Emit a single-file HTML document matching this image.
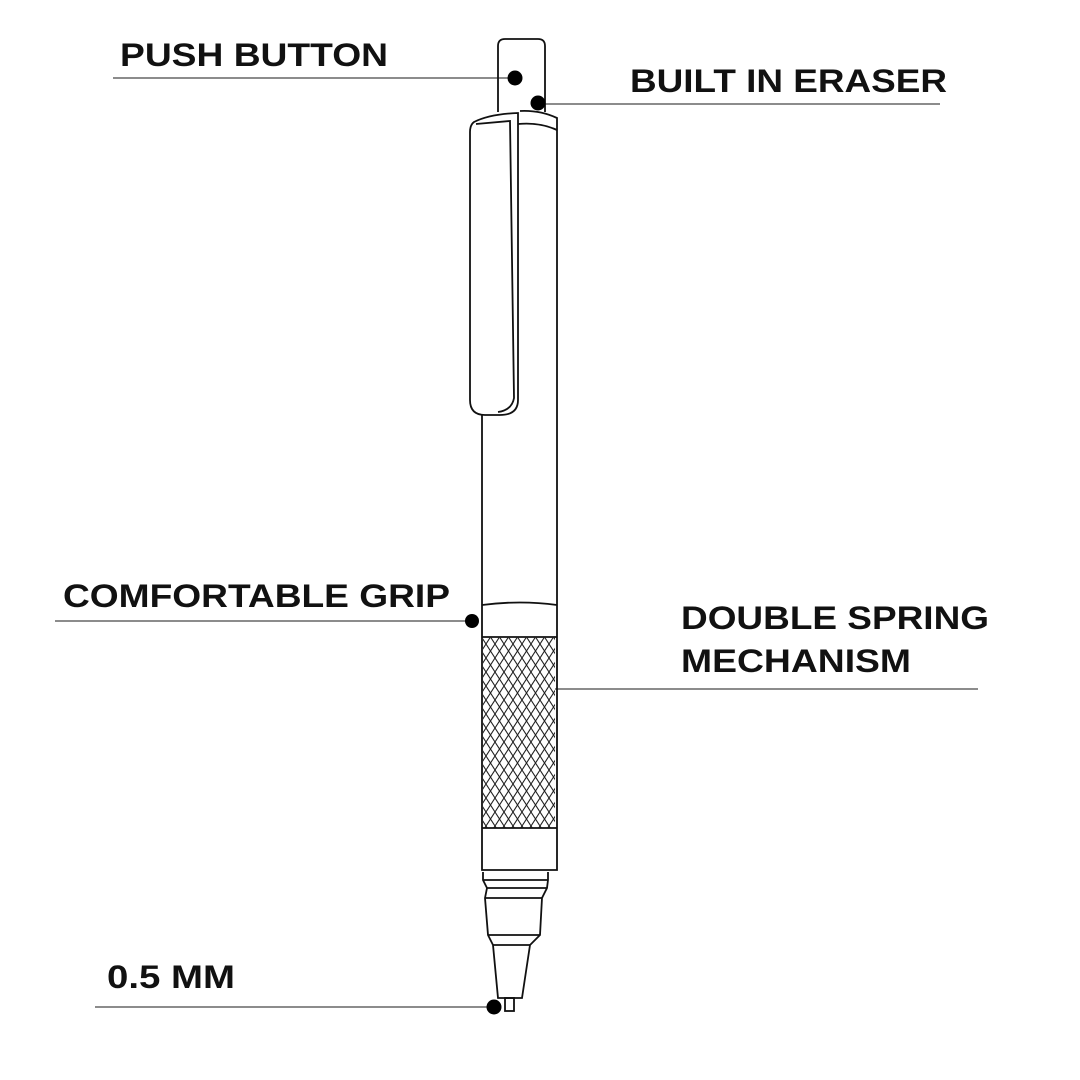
<!DOCTYPE html>
<html><head><meta charset="utf-8"><style>html,body{margin:0;padding:0;background:#fff}svg{display:block}</style></head>
<body>
<svg width="1080" height="1080" viewBox="0 0 1080 1080" xmlns="http://www.w3.org/2000/svg">
<defs>
<pattern id="kn" width="9" height="14" patternUnits="userSpaceOnUse">
<path d="M0 0 L9 14 M9 0 L0 14" stroke="#222" stroke-width="1.1" fill="none"/>
</pattern>
</defs>
<g font-family="Liberation Sans, sans-serif" font-weight="bold" font-size="32" fill="#111">
<text x="120" y="66" textLength="268" lengthAdjust="spacingAndGlyphs">PUSH BUTTON</text>
<text x="630" y="92" textLength="317" lengthAdjust="spacingAndGlyphs">BUILT IN ERASER</text>
<text x="63" y="607" textLength="387" lengthAdjust="spacingAndGlyphs">COMFORTABLE GRIP</text>
<text x="681" y="629" textLength="308" lengthAdjust="spacingAndGlyphs">DOUBLE SPRING</text>
<text x="681" y="672" textLength="230" lengthAdjust="spacingAndGlyphs">MECHANISM</text>
<text x="107" y="988" textLength="128" lengthAdjust="spacingAndGlyphs">0.5 MM</text>
</g>
<g stroke="#666" stroke-width="1.5">
<line x1="113" y1="78" x2="515" y2="78"/>
<line x1="538" y1="104" x2="940" y2="104"/>
<line x1="55" y1="621" x2="472" y2="621"/>
<line x1="555" y1="689" x2="978" y2="689"/>
<line x1="95" y1="1007" x2="494" y2="1007"/>
</g>
<g fill="none" stroke="#111" stroke-width="1.8">
<path d="M498 112 L498 46 Q498 39 505 39 L538 39 Q545 39 545 46 L545 112"/>
<path d="M482 415 L482 870 L557 870 L557 118 Q540 110 520 111"/>
<path d="M518 124 Q540 122 557 130"/>
<path d="M474 122 Q490 114 518 113 L518 400 Q518 415 500 415 L485 415 Q470 415 470 400 L470 132 Q470 125 474 122 Z"/>
<path d="M476 124 L510 121 L514 398 Q512 410 498 412"/>
<path d="M482 605 Q520 600 557 605"/>
<line x1="482" y1="637" x2="557" y2="637"/>
<rect x="483" y="637" width="72" height="191" fill="url(#kn)" stroke="none"/>
<line x1="482" y1="828" x2="557" y2="828"/>
<path d="M483 872 L483 880 L487 888 L485 898 L488 935 L493 945 L498 998 L522 998 L530 945 L540 935 L542 898 L547 888 L548 880 L548 872"/>
<path d="M483 880 L548 880 M487 888 L547 888 M485 898 L542 898 M488 935 L540 935 M493 945 L530 945"/>
<rect x="505" y="998" width="9" height="13"/>
</g>
<g fill="#000">
<circle cx="515" cy="78" r="7.5"/>
<circle cx="538" cy="103" r="7.5"/>
<circle cx="472" cy="621" r="7"/>
<circle cx="494" cy="1007" r="7.5"/>
</g>
</svg>
</body></html>
